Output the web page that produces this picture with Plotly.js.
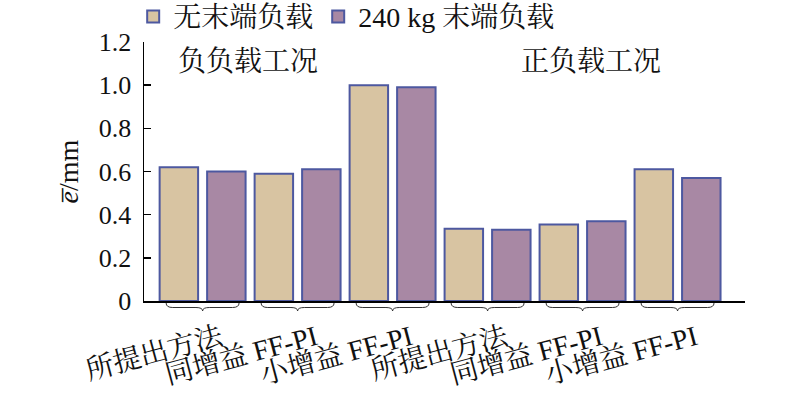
<!DOCTYPE html>
<html>
<head>
<meta charset="utf-8">
<script src="https://cdn.plot.ly/plotly-3.0.1.min.js"></script>
<style>html,body{margin:0;padding:0;background:#fff;}#chart{width:800px;height:398px;}</style>
</head>
<body>
<div id="chart"></div>
<script>
// ---- data ----
var categories = ["所提出方法", "同增益 FF-PI", "小增益 FF-PI", "所提出方法", "同增益 FF-PI", "小增益 FF-PI"];
var seriesNames = ["无末端负载", "240 kg 末端负载"];
var noLoad = [0.62, 0.59, 1.00, 0.335, 0.355, 0.61];
var load240 = [0.60, 0.61, 0.99, 0.33, 0.37, 0.57];
var yTickVals = [0, 0.2, 0.4, 0.6, 0.8, 1.0, 1.2];
var yTickText = ["0", "0.2", "0.4", "0.6", "0.8", "1.0", "1.2"];
var groupTitles = ["负负载工况", "正负载工况"];

var FONT = "'Liberation Serif', 'Times New Roman', 'Noto Serif CJK SC', 'Noto Sans CJK SC', serif";
var idx = categories.map(function(_, i){ return i; });

var traces = [
  {type: 'bar', name: seriesNames[0], x: idx, y: noLoad,
   marker: {color: '#D8C4A2', line: {color: '#4D58A0', width: 2}}},
  {type: 'bar', name: seriesNames[1], x: idx, y: load240,
   marker: {color: '#A888A4', line: {color: '#4D58A0', width: 2}}}
];

// braces under each group (decoration), built from category positions
var plotH = 259;
function py(px){ return -px / plotH; }
var shapes = idx.map(function(i){
  var xL = i - 0.384, xR = i + 0.384, c = 0.07;
  var yT = py(2), yM = py(6.5), yP = py(10);
  var p = 'M' + xL + ',' + yT +
          ' Q' + xL + ',' + yM + ' ' + (xL + c) + ',' + yM +
          ' L' + (i - c) + ',' + yM +
          ' Q' + i + ',' + yM + ' ' + i + ',' + yP +
          ' Q' + i + ',' + yM + ' ' + (i + c) + ',' + yM +
          ' L' + (xR - c) + ',' + yM +
          ' Q' + xR + ',' + yM + ' ' + xR + ',' + yT;
  return {type: 'path', xref: 'x', yref: 'paper', path: p,
          line: {color: '#333', width: 1}};
});

var layout = {
  width: 800, height: 398,
  margin: {l: 144, r: 55, t: 42, b: 97, autoexpand: false},
  paper_bgcolor: '#fff', plot_bgcolor: '#fff',
  font: {family: FONT, size: 26, color: '#111'},
  barmode: 'group', bargap: 0, bargroupgap: 0.19,
  showlegend: true,
  legend: {orientation: 'h', x: -0.018, xanchor: 'left', y: 1.097, yanchor: 'middle',
           font: {family: FONT, size: 28, color: '#111'}, itemgap: 0, bgcolor: 'rgba(0,0,0,0)'},
  xaxis: {
    automargin: false,
    range: [-0.617, 5.71], tickmode: 'array', tickvals: idx, ticktext: categories,
    tickangle: -15, ticks: '', showgrid: false, zeroline: false,
    showline: true, linecolor: '#000', linewidth: 2,
    ticklabelshift: 18, ticklabelstandoff: 8,
    tickfont: {family: FONT, size: 28, color: '#111'}, fixedrange: true
  },
  yaxis: {
    automargin: false,
    range: [0, 1.2], tickmode: 'array', tickvals: yTickVals, ticktext: yTickText,
    ticks: 'inside', ticklen: 7, tickwidth: 1.5, tickcolor: '#000',
    showgrid: false, zeroline: false, showline: true, linecolor: '#000', linewidth: 1.5,
    ticklabelstandoff: 6,
    tickfont: {family: FONT, size: 26, color: '#111'},
    title: {text: '<i>e\u0305</i>/mm', standoff: 12, font: {family: FONT, size: 28, color: '#111'}}
  },
  shapes: shapes,
  annotations: [
    {xref: 'paper', yref: 'paper', x: 0.173, y: 0.923, xanchor: 'center', yanchor: 'middle',
     text: groupTitles[0], showarrow: false, font: {family: FONT, size: 28, color: '#111'}},
    {xref: 'paper', yref: 'paper', x: 0.744, y: 0.923, xanchor: 'center', yanchor: 'middle',
     text: groupTitles[1], showarrow: false, font: {family: FONT, size: 28, color: '#111'}}
  ]
};

Plotly.newPlot('chart', traces, layout, {displayModeBar: false, staticPlot: true});
</script>
</body>
</html>
